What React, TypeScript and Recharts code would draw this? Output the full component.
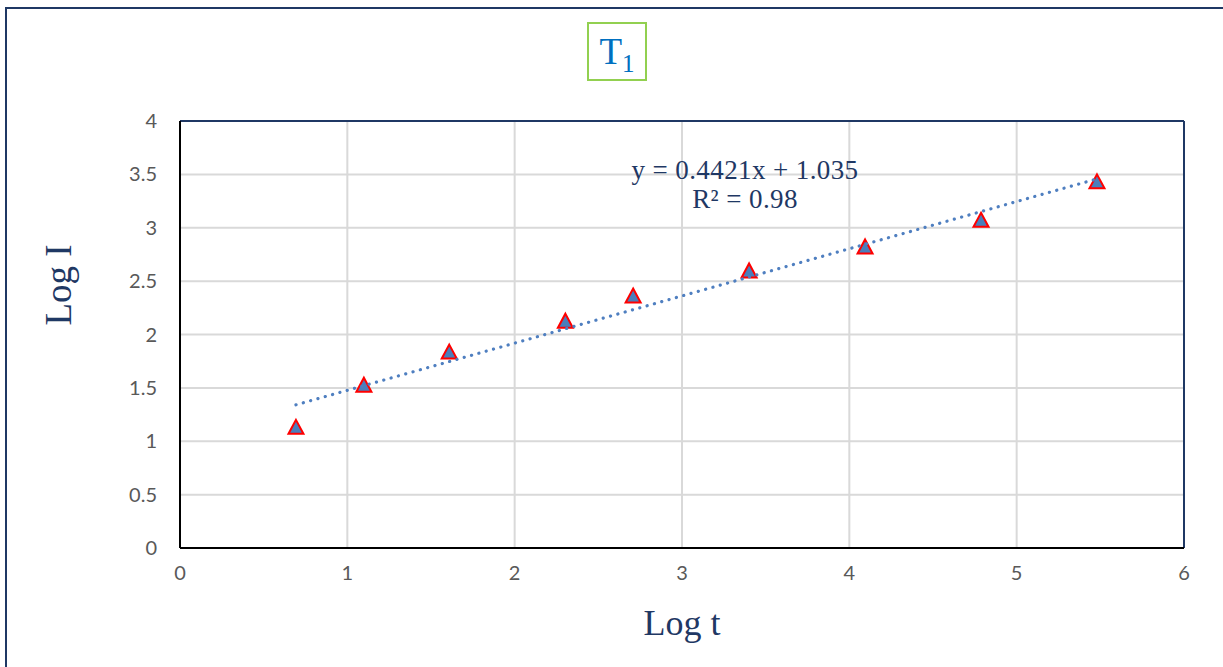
import React from 'react'
import {
  ScatterChart,
  Scatter,
  XAxis,
  YAxis,
  CartesianGrid,
  ReferenceLine,
} from 'recharts'

// Log t / Log I measurements
const LOG_T = [0.693, 1.099, 1.609, 2.303, 2.708, 3.401, 4.094, 4.787, 5.48]
const LOG_I = [1.13, 1.525, 1.835, 2.125, 2.36, 2.595, 2.82, 3.07, 3.43]

// Excel linear trendline shown on the chart
const SLOPE = 0.4421
const INTERCEPT = 1.035

const X_TICKS = [0, 1, 2, 3, 4, 5, 6]
const Y_TICKS = [0, 0.5, 1, 1.5, 2, 2.5, 3, 3.5, 4]

const NAVY = '#1F3864'
const SERIF = '"Liberation Serif", "Times New Roman", serif'

const points = LOG_T.map((x, i) => ({ x, y: LOG_I[i] }))
const xMin = LOG_T[0]
const xMax = LOG_T[LOG_T.length - 1]
const trend = [
  { x: xMin, y: SLOPE * xMin + INTERCEPT },
  { x: xMax, y: SLOPE * xMax + INTERCEPT },
]

// eslint-disable-next-line @typescript-eslint/no-explicit-any
function Triangle(props: any) {
  const { cx, cy } = props
  if (cx == null || cy == null) return <g />
  const d = `M${cx},${cy - 7.5} L${cx + 7.5},${cy + 6.5} L${cx - 7.5},${cy + 6.5} Z`
  return <path d={d} fill="#4A7EBB" stroke="#FF0000" strokeWidth={2} strokeLinejoin="miter" />
}

const tickStyle = { fill: '#595959', fontSize: 20, fontFamily: 'Lato, sans-serif' }

export default function App() {
  return (
    <div
      style={{
        position: 'absolute',
        left: 0,
        top: 0,
        width: 1223,
        height: 667,
        overflow: 'hidden',
        background: '#fff',
      }}
    >
      {/* outer frame */}
      <div
        style={{
          position: 'absolute',
          left: 5,
          top: 7,
          width: 1240,
          height: 700,
          border: `2px solid ${NAVY}`,
        }}
      />

      {/* title box */}
      <div
        style={{
          position: 'absolute',
          left: 587,
          top: 22,
          width: 56,
          height: 55,
          border: '2px solid #92D050',
          color: '#0070C0',
          fontFamily: SERIF,
          fontSize: 37,
          lineHeight: '55px',
          textAlign: 'center',
        }}
      >
        T<sub style={{ fontSize: 25, verticalAlign: '-8px', lineHeight: 0 }}>1</sub>
      </div>

      <ScatterChart
        width={1223}
        height={667}
        margin={{ top: 121, right: 39, left: 120, bottom: 89 }}
        style={{ position: 'absolute', left: 0, top: 0 }}
      >
        <CartesianGrid stroke="#D9D9D9" strokeWidth={2} />
        <XAxis
          type="number"
          dataKey="x"
          domain={[0, 6]}
          ticks={X_TICKS}
          tick={tickStyle}
          tickLine={false}
          axisLine={{ stroke: '#000', strokeWidth: 2 }}
          height={30}
          tickMargin={12}
        />
        <YAxis
          type="number"
          dataKey="y"
          domain={[0, 4]}
          ticks={Y_TICKS}
          tick={tickStyle}
          tickLine={false}
          axisLine={{ stroke: '#000', strokeWidth: 2 }}
          width={60}
          tickMargin={17}
        />
        <ReferenceLine y={4} stroke={NAVY} strokeWidth={2} />
        <ReferenceLine x={6} stroke={NAVY} strokeWidth={2} />
        <Scatter data={points} shape={Triangle} isAnimationActive={false} />
        <Scatter
          data={trend}
          line={{ stroke: '#4F7FC0', strokeWidth: 3.2, strokeDasharray: '0.1 7.5', strokeLinecap: 'round' }}
          lineType="joint"
          shape={() => <g />}
          isAnimationActive={false}
        />
      </ScatterChart>

      {/* trendline equation */}
      <div
        style={{
          position: 'absolute',
          left: 600,
          top: 156,
          width: 290,
          textAlign: 'center',
          color: NAVY,
          fontFamily: SERIF,
          fontSize: 27,
          lineHeight: '29px',
          letterSpacing: 0.4,
        }}
      >
        <div>y = 0.4421x + 1.035</div>
        <div>R² = 0.98</div>
      </div>

      {/* axis titles */}
      <div
        style={{
          position: 'absolute',
          left: 682,
          top: 623,
          transform: 'translate(-50%, -50%)',
          color: NAVY,
          fontFamily: SERIF,
          fontSize: 36,
          whiteSpace: 'nowrap',
        }}
      >
        Log t
      </div>
      <div
        style={{
          position: 'absolute',
          left: 58,
          top: 285,
          transform: 'translate(-50%, -50%) rotate(-90deg)',
          color: NAVY,
          fontFamily: SERIF,
          fontSize: 37,
          whiteSpace: 'nowrap',
        }}
      >
        Log I
      </div>
    </div>
  )
}
